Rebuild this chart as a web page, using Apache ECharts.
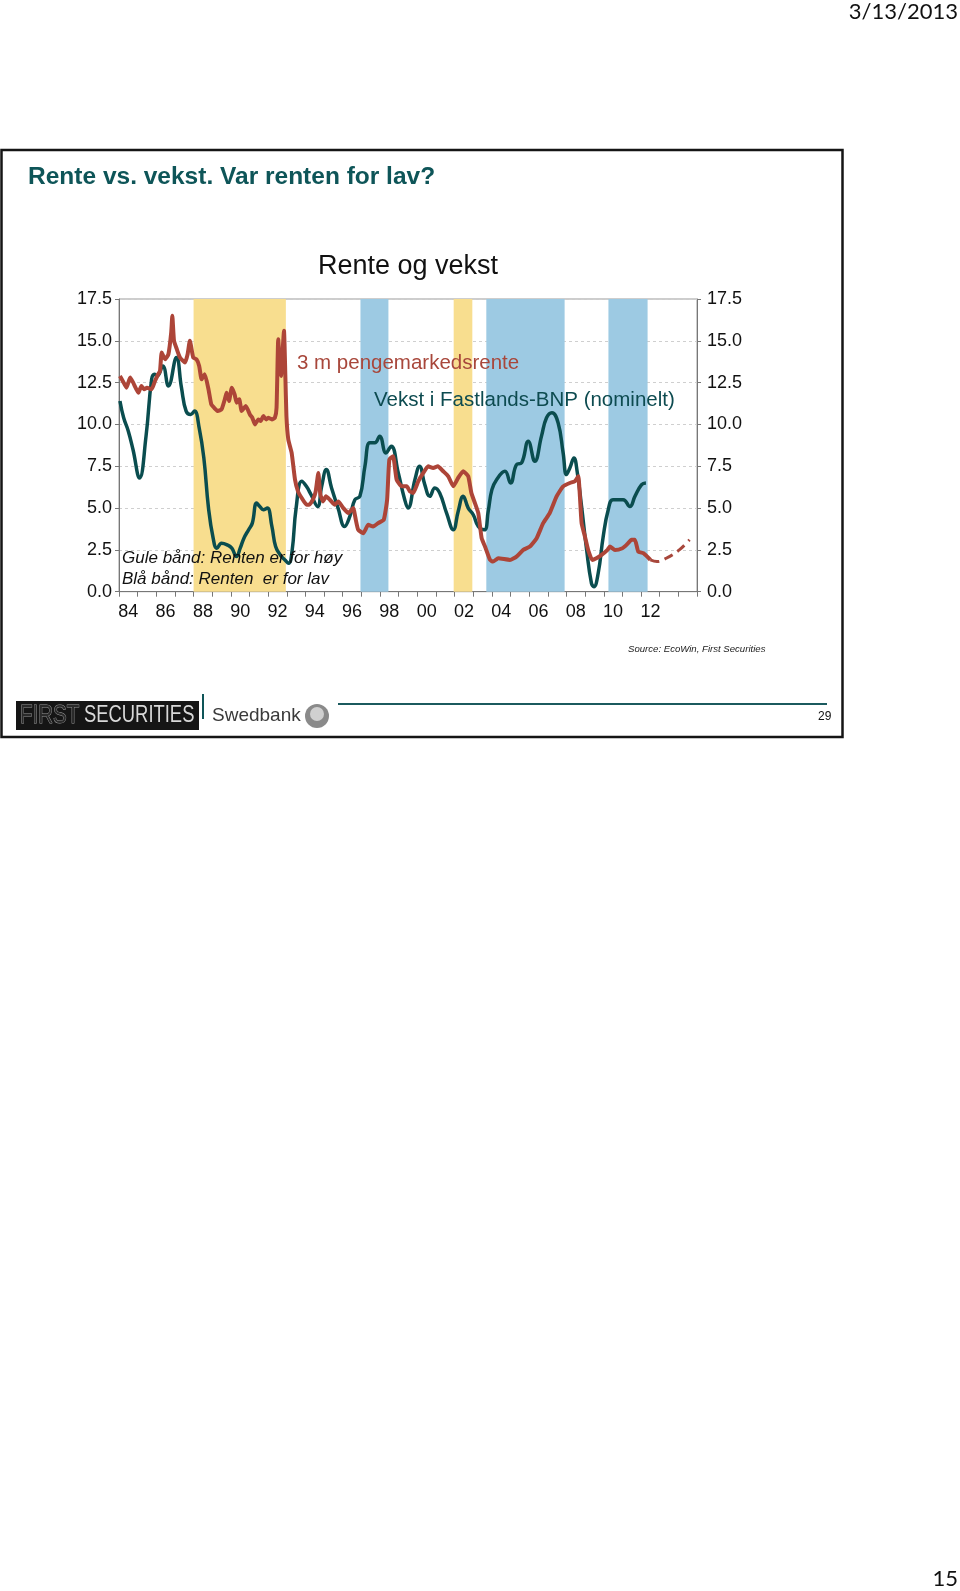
<!DOCTYPE html>
<html>
<head>
<meta charset="utf-8">
<script src="https://cdn.jsdelivr.net/npm/echarts@6/dist/echarts.min.js"></script>
<style>
  html, body { margin: 0; padding: 0; background: #fff; }
  #main { width: 960px; height: 1591px; }
</style>
</head>
<body>
<div id="main"></div>
<script>
// Vekst i Fastlands-BNP (nominelt), % y/y
var gdpX = [1984.05, 1984.25, 1984.5, 1984.75, 1985.1, 1985.45, 1985.75, 1985.9, 1986.05, 1986.35, 1986.65, 1987.08, 1987.35, 1987.6, 1987.85, 1988.05, 1988.3, 1988.55, 1988.8, 1989.05, 1989.25, 1989.5, 1989.8, 1990.05, 1990.3, 1990.5, 1990.7, 1990.95, 1991.15, 1991.38, 1991.55, 1991.74, 1991.95, 1992.2, 1992.4, 1992.65, 1992.9, 1993.1, 1993.28, 1993.5, 1993.8, 1994.05, 1994.3, 1994.65, 1994.87, 1995.12, 1995.4, 1995.75, 1996.1, 1996.38, 1996.65, 1996.92, 1997.19, 1997.45, 1997.72, 1997.98, 1998.32, 1998.6, 1998.98, 1999.3, 1999.5, 1999.87, 2000.12, 2000.4, 2000.67, 2000.94, 2001.2, 2001.57, 2001.93, 2002.19, 2002.46, 2002.73, 2003.0, 2003.27, 2003.6, 2003.8, 2004.0, 2004.25, 2004.7, 2005.0, 2005.32, 2005.59, 2005.95, 2006.3, 2006.66, 2006.93, 2007.22, 2007.55, 2007.82, 2008.0, 2008.18, 2008.4, 2008.57, 2008.81, 2009.08, 2009.34, 2009.47, 2009.7, 2009.97, 2010.24, 2010.5, 2011.04, 2011.4, 2011.67, 2012.03, 2012.26];
var gdpY = [11.4, 10.4, 9.6, 8.5, 6.8, 9.3, 12.7, 13.0, 12.9, 13.5, 12.3, 14.0, 12.2, 10.8, 10.6, 10.8, 9.8, 8.0, 5.0, 3.2, 2.6, 2.9, 2.8, 2.6, 2.1, 2.6, 3.2, 3.7, 4.1, 5.3, 5.1, 4.9, 5.0, 3.9, 2.7, 2.2, 1.9, 1.7, 2.4, 5.0, 6.6, 6.3, 5.8, 5.1, 6.3, 7.3, 6.2, 5.0, 3.9, 4.5, 5.5, 5.7, 7.5, 8.9, 8.9, 9.3, 8.3, 8.7, 7.1, 5.6, 5.0, 6.7, 7.5, 6.4, 5.7, 6.2, 5.9, 4.7, 3.7, 4.8, 5.7, 5.0, 4.6, 3.9, 3.7, 4.8, 6.1, 6.7, 7.2, 6.5, 7.6, 7.7, 9.0, 7.8, 9.3, 10.4, 10.7, 10.1, 8.3, 7.0, 7.4, 8.0, 7.2, 5.1, 2.5, 0.5, 0.3, 1.1, 3.3, 4.9, 5.5, 5.5, 5.1, 5.7, 6.4, 6.5];

// 3 m pengemarkedsrente, %
var rateX = [1984.05, 1984.2, 1984.4, 1984.6, 1984.76, 1985.04, 1985.2, 1985.35, 1985.5, 1985.75, 1985.93, 1986.1, 1986.2, 1986.29, 1986.47, 1986.65, 1986.8, 1986.86, 1986.95, 1987.1, 1987.27, 1987.54, 1987.68, 1987.8, 1987.98, 1988.15, 1988.3, 1988.43, 1988.6, 1988.8, 1988.95, 1989.1, 1989.3, 1989.5, 1989.7, 1989.77, 1989.9, 1990.05, 1990.2, 1990.31, 1990.45, 1990.58, 1990.8, 1991.02, 1991.15, 1991.29, 1991.47, 1991.6, 1991.74, 1991.9, 1992.0, 1992.2, 1992.36, 1992.45, 1992.54, 1992.62, 1992.69, 1992.78, 1992.85, 1992.92, 1992.98, 1993.08, 1993.26, 1993.44, 1993.6, 1993.8, 1994.06, 1994.2, 1994.4, 1994.55, 1994.69, 1994.8, 1994.95, 1995.1, 1995.31, 1995.58, 1995.76, 1996.03, 1996.3, 1996.56, 1996.7, 1996.83, 1997.1, 1997.37, 1997.63, 1997.9, 1998.2, 1998.38, 1998.5, 1998.7, 1998.89, 1999.16, 1999.43, 1999.6, 1999.78, 2000.05, 2000.32, 2000.58, 2000.85, 2001.1, 2001.39, 2001.66, 2001.93, 2002.19, 2002.46, 2002.73, 2002.9, 2003.09, 2003.27, 2003.45, 2003.63, 2003.9, 2004.06, 2004.34, 2004.97, 2005.32, 2005.68, 2006.04, 2006.4, 2006.75, 2007.1, 2007.47, 2007.82, 2008.18, 2008.45, 2008.63, 2008.81, 2008.99, 2009.16, 2009.38, 2009.6, 2009.88, 2010.2, 2010.33, 2010.6, 2011.0, 2011.22, 2011.49, 2011.67, 2011.85, 2012.13, 2012.33, 2012.5];
var rateY = [12.9, 12.6, 12.2, 12.8, 12.5, 11.9, 12.3, 12.1, 12.2, 12.1, 12.6, 13.0, 13.2, 14.3, 13.9, 14.2, 15.5, 16.5, 15.0, 14.5, 14.0, 13.7, 14.2, 15.0, 14.0, 13.9, 13.5, 12.7, 13.0, 12.1, 11.2, 11.0, 10.8, 10.9, 11.6, 11.9, 11.4, 12.2, 11.8, 11.3, 11.5, 10.8, 11.1, 10.6, 10.4, 10.0, 10.3, 10.2, 10.5, 10.3, 10.4, 10.3, 10.4, 11.0, 15.1, 13.5, 12.9, 14.5, 15.6, 13.0, 10.5, 9.1, 8.3, 6.7, 6.0, 5.6, 5.2, 5.2, 5.5, 6.0, 7.1, 5.8, 5.4, 5.7, 5.5, 5.2, 5.4, 5.0, 4.7, 5.0, 4.3, 3.7, 3.5, 4.0, 3.9, 4.1, 4.3, 5.5, 7.9, 8.1, 6.7, 6.3, 6.3, 6.0, 5.9, 6.6, 7.1, 7.5, 7.4, 7.5, 7.2, 6.9, 6.3, 6.8, 7.2, 6.9, 5.9, 5.3, 4.7, 3.2, 2.7, 1.9, 1.8, 2.0, 1.9, 2.1, 2.5, 2.7, 3.2, 4.1, 4.7, 5.7, 6.3, 6.5, 6.6, 6.9, 4.1, 3.3, 2.5, 1.9, 2.0, 2.2, 2.5, 2.7, 2.5, 2.6, 2.8, 3.1, 3.1, 2.4, 2.3, 2.1, 1.9];

// rentebane (stiplet)
var fcX = [2012.5, 2012.85, 2013.35, 2014.05, 2014.6];
var fcY = [1.9, 1.8, 2.0, 2.5, 3.1];

// bånd
var yellowBands = [[1988.0, 1992.95], [2001.95, 2002.95]];
var blueBands = [[1996.95, 1998.45], [2003.7, 2007.9], [2010.25, 2012.35]];

var labelYears = [1984, 1986, 1988, 1990, 1992, 1994, 1996, 1998, 2000, 2002, 2004, 2006, 2008, 2010, 2012];

function zip(xs, ys) {
  return xs.map(function (x, i) { return [x, ys[i]] })
}

var bands = []
yellowBands.forEach(function (b) {
  bands.push([{ xAxis: b[0], itemStyle: { color: '#f8de8f' } }, { xAxis: b[1] }])
})
blueBands.forEach(function (b) {
  bands.push([{ xAxis: b[0], itemStyle: { color: '#9dcae3' } }, { xAxis: b[1] }])
})

var chart = echarts.init(document.getElementById('main'))
var font = 'Liberation Sans, Arial, sans-serif'

chart.setOption({
  animation: false,
  backgroundColor: '#fff',
  textStyle: { fontFamily: font },
  grid: {
    left: 119, top: 299, width: 578, height: 292.7,
    show: true, borderColor: '#9a9a9a', borderWidth: 1
  },
  xAxis: [{
    type: 'value', min: 1984, max: 2015, interval: 1,
    position: 'bottom',
    axisLine: { lineStyle: { color: '#777' } },
    axisTick: { length: 5, lineStyle: { color: '#777' } },
    axisLabel: { show: false },
    splitLine: { show: false }
  }, {
    type: 'value', min: 1984, max: 2015, interval: 0.5,
    position: 'bottom',
    axisLine: { show: false },
    axisTick: { show: false },
    splitLine: { show: false },
    axisLabel: {
      margin: 11, fontSize: 18, color: '#111', fontFamily: font,
      formatter: function (v) {
        var y = Math.round((v - 0.5) * 10) / 10
        return labelYears.indexOf(y) >= 0 ? String(y).slice(2) : ''
      }
    }
  }],
  yAxis: [{
    type: 'value', min: 0, max: 17.5, interval: 2.5, position: 'left',
    axisLine: { show: true, lineStyle: { color: '#777' } },
    axisTick: { show: true, length: 4, lineStyle: { color: '#777' } },
    axisLabel: { fontSize: 18, color: '#111', margin: 7, formatter: function (v) { return v.toFixed(1) } },
    splitLine: { lineStyle: { color: '#cfcfcf', type: [3, 3] } }
  }, {
    type: 'value', min: 0, max: 17.5, interval: 2.5, position: 'right',
    axisLine: { show: true, lineStyle: { color: '#777' } },
    axisTick: { show: true, length: 4, lineStyle: { color: '#777' } },
    axisLabel: { fontSize: 18, color: '#111', margin: 10, formatter: function (v) { return v.toFixed(1) } },
    splitLine: { show: false }
  }],
  series: [{
    name: 'bands', type: 'line', z: 1, data: [],
    markArea: { silent: true, data: bands }
  }, {
    name: 'Vekst i Fastlands-BNP (nominelt)', type: 'line', z: 3,
    data: zip(gdpX, gdpY), showSymbol: false, smooth: 0.45,
    lineStyle: { color: '#0a4d4f', width: 3.5 }
  }, {
    name: '3 m pengemarkedsrente', type: 'line', z: 4,
    data: zip(rateX, rateY), showSymbol: false, smooth: 0.15,
    lineStyle: { color: '#ad4538', width: 4 }
  }, {
    name: 'prognose', type: 'line', z: 4,
    data: zip(fcX, fcY), showSymbol: false, smooth: 0.4,
    lineStyle: { color: '#a8473c', width: 3, type: [9, 6] }
  }],
  graphic: [
    { type: 'rect', shape: { x: 1.5, y: 150, width: 841, height: 587 }, style: { fill: 'none', stroke: '#151515', lineWidth: 2.5 } },
    { type: 'text', x: 958, y: 12, style: { text: '3/13/2013', font: '22px Lato, sans-serif', fill: '#111', textAlign: 'right', textVerticalAlign: 'middle' } },
    { type: 'text', x: 958, y: 1579, style: { text: '15', font: '22px Lato, sans-serif', fill: '#111', textAlign: 'right', textVerticalAlign: 'middle' } },
    { type: 'text', x: 28, y: 177, style: { text: 'Rente vs. vekst. Var renten for lav?', font: 'bold 24.5px ' + font, fill: '#0e5558', textVerticalAlign: 'middle' } },
    { type: 'text', x: 408, y: 267, style: { text: 'Rente og vekst', font: '27px ' + font, fill: '#111', textAlign: 'center', textVerticalAlign: 'middle' } },
    { type: 'text', x: 297, y: 363, z: 10, style: { text: '3 m pengemarkedsrente', font: '20.5px ' + font, fill: '#a8473b', textVerticalAlign: 'middle' } },
    { type: 'text', x: 374, y: 400, z: 10, style: { text: 'Vekst i Fastlands-BNP (nominelt)', font: '20.5px ' + font, fill: '#0d4b50', textVerticalAlign: 'middle' } },
    { type: 'text', x: 122, y: 558, z: 10, style: { text: 'Gule bånd: Renten er for høy', font: 'italic 17px ' + font, fill: '#111', textVerticalAlign: 'middle' } },
    { type: 'text', x: 122, y: 579, z: 10, style: { text: 'Blå bånd: Renten  er for lav', font: 'italic 17px ' + font, fill: '#111', textVerticalAlign: 'middle' } },
    { type: 'text', x: 628, y: 649, style: { text: 'Source: EcoWin, First Securities', font: 'italic 9.6px ' + font, fill: '#222', textVerticalAlign: 'middle' } },
    // footer
    { type: 'rect', shape: { x: 16, y: 701, width: 183, height: 29 }, style: { fill: '#151515' } },
    { type: 'text', x: 20, y: 716, scaleX: 0.82, style: { text: 'FIRST', font: '25px ' + font, fill: '#2a2a2a', stroke: '#9a9a9a', lineWidth: 1, textVerticalAlign: 'middle' } },
    { type: 'text', x: 84, y: 716, scaleX: 0.8, style: { text: 'SECURITIES', font: '23px ' + font, fill: '#d8d8d8', textVerticalAlign: 'middle' } },
    { type: 'line', shape: { x1: 203, y1: 694, x2: 203, y2: 719 }, style: { stroke: '#0e5558', lineWidth: 2 } },
    { type: 'text', x: 212, y: 716, style: { text: 'Swedbank', font: '19px ' + font, fill: '#3a3a3a', textVerticalAlign: 'middle' } },
    { type: 'circle', shape: { cx: 317, cy: 716, r: 12 }, style: { fill: '#8a8a8a' } },
    { type: 'circle', shape: { cx: 317, cy: 714, r: 7 }, style: { fill: '#d0d0d0' } },
    { type: 'line', shape: { x1: 338, y1: 704, x2: 827, y2: 704 }, style: { stroke: '#1b5a5e', lineWidth: 2 } },
    { type: 'text', x: 818, y: 717, style: { text: '29', font: '12px ' + font, fill: '#111', textVerticalAlign: 'middle' } }
  ]
})
</script>
</body>
</html>
